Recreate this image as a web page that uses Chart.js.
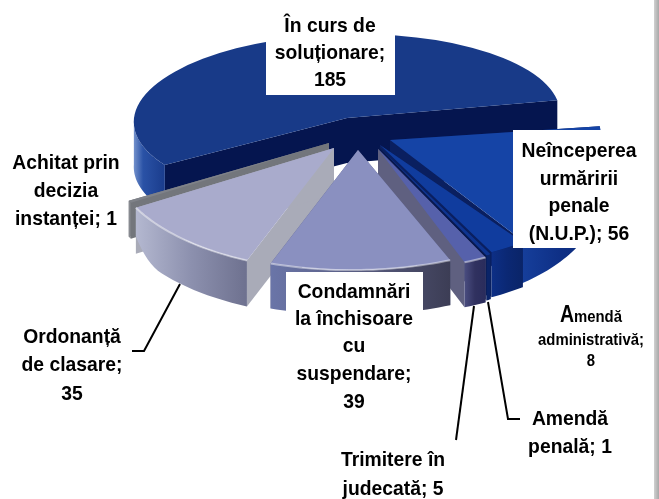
<!DOCTYPE html>
<html>
<head>
<meta charset="utf-8">
<style>
  html, body { margin: 0; padding: 0; background: #fff; overflow: hidden; }
  #wrap { position: relative; width: 659px; height: 499px; }
  #edge { position: absolute; left: 654px; top: 0; width: 5px; height: 499px;
          background: linear-gradient(to right, #d0d0d0, #a8a8a8); }
  canvas { position: absolute; left: 0; top: 0; }
</style>
<script src="https://cdn.jsdelivr.net/npm/chart.js@4/dist/chart.umd.min.js"></script>
</head>
<body>
<div id="wrap">
  <canvas id="myChart" width="654" height="499"></canvas>
  <div id="edge"></div>
</div>
<script>
const categories = ['În curs de soluționare', 'Neînceperea urmăririi penale (N.U.P.)', 'Amendă administrativă',
  'Amendă penală', 'Trimitere în judecată', 'Condamnări la închisoare cu suspendare',
  'Ordonanță de clasare', 'Achitat prin decizia instanței'];
const values = [185, 56, 8, 1, 5, 39, 35, 1];

const topColors = ['#183a88', '#1544a6', '#103c9e', '#0e3490', '#5661ab', '#8a90c0', '#a9abcc', '#7f8289'];
const cutColors = ['#05154f', '#0a1f5f', '#0a1f60', '#08184f', '#5f6080', '#5a5f88', '#a9abb8', '#73767c'];
const rimColors = [
  ['#7391cc', '#2a52a6', '#1a3c8c'],
  ['#163f9c', '#0e2f85', '#0b2a78'],
  ['#0d2f86', '#0b2874', '#0a2468'],
  ['#0a2468', '#0a2468', '#0a2468'],
  ['#4a4d80', '#30315f', '#2a2c5c'],
  ['#6a75a8', '#585c80', '#3c3d55'],
  ['#b4b8d0', '#8c90ae', '#6e718f'],
  ['#8d9096', '#84878d', '#7a7d83']
];

// where each wedge sits on the page: apex, then the flattened axes of the disc
const apexes = [[347, 118], [390, 140], [380, 145], [379, 147], [378, 149], [358, 150], [334, 148], [329, 143]];
const axes = [
  [213, 0, -10, 84], [212, 12, -12, 121], [240, 8, -20, 122], [240, 8, -20, 122],
  [240, 8, -20, 122], [247, 5, -17, 120], [226, 12, -23, 121], [226, 12, -23, 121]
];
const drawOrder = [0, 1, 7, 6, 2, 3, 4, 5];
const depths = [45, 45, 45, 45, 45, 45, 46, 36];
const rimEndFraction = [1, 1, 1, 1, 1, 1, 0.62, 1];

const labels = [
  {x: 330, lines: [['În curs de', 32], ['soluționare;', 59], ['185', 86]]},
  {x: 579, lines: [['Neînceperea', 157], ['urmăririi', 185], ['penale', 212], ['(N.U.P.); 56', 240]]},
  {x: 570, lines: [['Amendă', 425], ['penală; 1', 453]]},
  {x: 393, lines: [['Trimitere în', 466], ['judecată; 5', 495]]},
  {x: 354, lines: [['Condamnări', 298], ['la închisoare', 325], ['cu', 352], ['suspendare;', 380], ['39', 408]]},
  {x: 72, lines: [['Ordonanță', 343], ['de clasare;', 371], ['35', 400]]},
  {x: 66, lines: [['Achitat prin', 169], ['decizia', 197], ['instanței; 1', 225]]}
];
const whiteBoxes = [[266, 32, 129, 63], [513, 130, 141, 118], [286, 272, 137, 140]];
const leaders = [
  [[180, 284], [144, 351], [132, 351]],
  [[474, 306], [456, 440]],
  [[488, 302], [508, 419], [520, 419]]
];

function pointOn(i, angle) {
  const m = axes[i], c = Math.cos(angle), s = Math.sin(angle);
  return [apexes[i][0] + m[0] * c + m[2] * s, apexes[i][1] + m[1] * c + m[3] * s];
}

function drawWedge(ctx, arc, i) {
  const R = arc.outerRadius, m = axes[i], a = arc.startAngle, b = arc.endAngle;
  const steps = Math.max(4, Math.ceil((b - a) * 40));
  const A = pointOn(i, a), B = pointOn(i, b), O = apexes[i], depth = depths[i];

  // cut faces
  ctx.fillStyle = cutColors[i];
  [A, B].forEach(p => {
    ctx.beginPath();
    ctx.moveTo(O[0], O[1]);
    ctx.lineTo(p[0], p[1]);
    ctx.lineTo(p[0], p[1] + depth);
    ctx.lineTo(O[0], O[1] + depth);
    ctx.closePath();
    ctx.fill();
  });

  // outer rim, front half only
  let pts = [];
  for (let k = 0; k <= steps; k++) {
    const t = k / steps, ang = a + (b - a) * t;
    if (Math.sin(ang) < 0) continue;
    const p = pointOn(i, ang);
    const ease = t < 0.7 ? 1 : 1 - (1 - rimEndFraction[i]) * Math.pow((t - 0.7) / 0.3, 2);
    pts.push([p[0], p[1], depth * ease]);
  }
  if (pts.length > 1) {
    const xs = pts.map(p => p[0]);
    const left = Math.min(...xs), right = Math.max(...xs);
    const g = ctx.createLinearGradient(left, 0, Math.max(right, left + 1), 0);
    const stops = rimColors[i];
    g.addColorStop(0, stops[0]);
    g.addColorStop(i === 0 ? 0.3 : 0.5, stops[1]);
    g.addColorStop(1, stops[2]);
    ctx.fillStyle = g;
    ctx.beginPath();
    pts.forEach((p, k) => k ? ctx.lineTo(p[0], p[1]) : ctx.moveTo(p[0], p[1]));
    pts.slice().reverse().forEach(p => ctx.lineTo(p[0], p[1] + p[2]));
    ctx.closePath();
    ctx.fill();
  }

  // top face, the library's own arc under a flattening transform
  ctx.save();
  ctx.translate(O[0], O[1]);
  ctx.transform(m[0] / R, m[1] / R, m[2] / R, m[3] / R, 0, 0);
  ctx.translate(-arc.x, -arc.y);
  arc.draw(ctx);
  ctx.restore();

  // bevel along the front edge
  if (i >= 4 && i <= 6 && pts.length > 1) {
    ctx.save();
    ctx.strokeStyle = 'rgba(255,255,255,0.45)';
    ctx.lineWidth = 2;
    ctx.beginPath();
    pts.forEach((p, k) => k ? ctx.lineTo(p[0], p[1]) : ctx.moveTo(p[0], p[1]));
    ctx.stroke();
    ctx.restore();
  }
}

// the source text is a little tall and narrow
function tallText(ctx, text, x, y, squeeze) {
  ctx.save();
  ctx.translate(x, y);
  ctx.scale(squeeze, 1);
  ctx.fillText(text, 0, 0);
  ctx.restore();
}

const pie3d = {
  id: 'pie3d',
  beforeDatasetsDraw(chart) {
    const ctx = chart.ctx, arcs = chart.getDatasetMeta(0).data;
    drawOrder.forEach(i => drawWedge(ctx, arcs[i], i));
    return false;
  },
  afterDraw(chart) {
    const ctx = chart.ctx;
    ctx.save();
    ctx.fillStyle = '#fff';
    whiteBoxes.forEach(b => ctx.fillRect(b[0], b[1], b[2], b[3]));

    ctx.strokeStyle = '#000';
    ctx.lineWidth = 2;
    leaders.forEach(l => {
      ctx.beginPath();
      l.forEach((p, k) => k ? ctx.lineTo(p[0], p[1]) : ctx.moveTo(p[0], p[1]));
      ctx.stroke();
    });

    ctx.fillStyle = '#000';
    ctx.textAlign = 'center';
    ctx.textBaseline = 'alphabetic';
    ctx.font = 'bold 21px "Liberation Sans"';
    labels.forEach(l => l.lines.forEach(t => tallText(ctx, t[0], l.x, t[1], 0.92)));

    // the small administrative label has a big first letter
    ctx.textAlign = 'left';
    ctx.font = 'bold 23px "Liberation Sans"';
    tallText(ctx, 'A', 560, 322, 0.85);
    ctx.font = 'bold 16px "Liberation Sans"';
    tallText(ctx, 'mendă', 574, 322, 0.93);
    ctx.textAlign = 'center';
    tallText(ctx, 'administrativă;', 591, 345, 0.93);
    tallText(ctx, '8', 591, 366, 0.93);
    ctx.restore();
  }
};

new Chart(document.getElementById('myChart').getContext('2d'), {
  type: 'pie',
  data: {
    labels: categories,
    datasets: [{
      data: values,
      backgroundColor: topColors,
      borderWidth: 0
    }]
  },
  options: {
    responsive: false,
    animation: false,
    rotation: 236,
    radius: 200,
    plugins: { legend: { display: false }, tooltip: { enabled: false } }
  },
  plugins: [pie3d]
});
</script>
</body>
</html>
